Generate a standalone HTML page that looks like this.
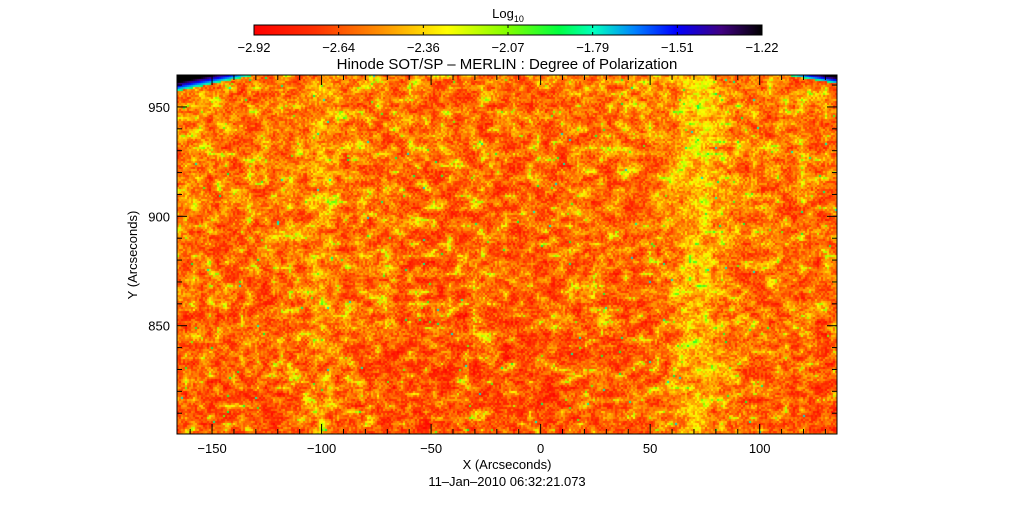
<!DOCTYPE html>
<html><head><meta charset="utf-8"><style>
body{margin:0;background:#fff;width:1014px;height:512px;overflow:hidden;font-family:"Liberation Sans","DejaVu Sans",sans-serif}
svg text{font-family:"Liberation Sans","DejaVu Sans",sans-serif;fill:#000}
#hm{position:absolute;left:177px;top:75px}
</style></head><body>
<canvas id="hm" width="660" height="359"></canvas>
<svg id="s" width="1014" height="512" style="position:absolute;left:0;top:0">
<defs><linearGradient id="cb" x1="0" x2="1">
<stop offset="0" stop-color="#ff0000"/><stop offset="0.12" stop-color="#ff3000"/><stop offset="0.25" stop-color="#ff9000"/><stop offset="0.38" stop-color="#ffff00"/><stop offset="0.5" stop-color="#80ff00"/><stop offset="0.6" stop-color="#00ff40"/><stop offset="0.67" stop-color="#00ffc0"/><stop offset="0.75" stop-color="#0080ff"/><stop offset="0.83" stop-color="#0000ff"/><stop offset="0.92" stop-color="#400080"/><stop offset="1" stop-color="#000000"/>
</linearGradient></defs>
<text x="508" y="18" font-size="13" text-anchor="middle">Log<tspan font-size="9" dy="4">10</tspan></text>
<rect x="254" y="25" width="508" height="10" fill="url(#cb)" stroke="#000"/>
<g id="cbt"></g>
<text x="507" y="69" font-size="15" text-anchor="middle">Hinode SOT/SP – MERLIN : Degree of Polarization</text>
<g id="ax"></g>
<rect x="177" y="75" width="660" height="359" fill="none" stroke="#000"/>
<text x="507" y="469" font-size="13" text-anchor="middle">X (Arcseconds)</text>
<text x="507" y="486" font-size="13" text-anchor="middle">11–Jan–2010 06:32:21.073</text>
<text transform="translate(137,255) rotate(-90)" font-size="13" text-anchor="middle">Y (Arcseconds)</text>
</svg>
<script>
const cbLabels=["-2.92","-2.64","-2.36","-2.07","-1.79","-1.51","-1.22"];
const xTicks=[-150,-100,-50,0,50,100];
const yTicks=[850,900,950];
const xDomain=[-166,135.3], yDomain=[800.5,964.6];
// mean level (0..1 colormap) across x
const profileX=[-170,-150,-130,-110,-100,-90,-70,-50,-30,-10,10,30,50,60,65,70,75,80,90,110,130,140];
const profileV=[0.21,0.20,0.20,0.21,0.26,0.21,0.20,0.19,0.19,0.19,0.20,0.20,0.21,0.24,0.29,0.31,0.31,0.27,0.22,0.21,0.20,0.20];
const NS="http://www.w3.org/2000/svg";
const X=v=>177+(v-xDomain[0])/(xDomain[1]-xDomain[0])*660;
const Y=v=>434-(v-yDomain[0])/(yDomain[1]-yDomain[0])*359;
function el(t,a,p){const e=document.createElementNS(NS,t);for(const k in a)e.setAttribute(k,a[k]);p.appendChild(e);return e;}
const cbt=document.getElementById('cbt');
cbLabels.forEach((l,i)=>{const x=254+i*508/6;
 const t=el('line',{x1:x,x2:x,y1:25,y2:28,stroke:'#000'},cbt);
 
 
 el('line',{x1:x,x2:x,y1:32,y2:35,stroke:'#000'},cbt);
 const tx=el('text',{x:x,y:52,'font-size':13,'text-anchor':'middle'},cbt);tx.textContent=l.replace('-','−');
 
 });
const ax=document.getElementById('ax');
for(let v=-160;v<=130;v+=10){const x=X(v),maj=v%50===0;
 const a=el('line',{x1:x,x2:x,y1:434,y2:434-(maj?10:5),stroke:'#000'},ax);
 
 
 el('line',{x1:x,x2:x,y1:75,y2:75+(maj?10:5),stroke:'#000'},ax);}
xTicks.forEach(v=>{const t=el('text',{x:X(v),y:453,'font-size':13,'text-anchor':'middle'},ax);t.textContent=String(v).replace('-','−');
 
 });
for(let v=810;v<=960;v+=10){const y=Y(v),maj=v%50===0;
 const a=el('line',{x1:177,x2:177+(maj?10:5),y1:y,y2:y,stroke:'#000'},ax);
 
 
 el('line',{x1:837,x2:837-(maj?10:5),y1:y,y2:y,stroke:'#000'},ax);}
yTicks.forEach(v=>{const t=el('text',{x:170,y:Y(v)+5,'font-size':13,'text-anchor':'end'},ax);t.textContent=v;
 
 });
// heatmap texture
const stops=[[0,255,0,0],[0.12,255,48,0],[0.25,255,144,0],[0.38,255,255,0],[0.5,128,255,0],[0.6,0,255,64],[0.67,0,255,192],[0.75,0,128,255],[0.83,0,0,255],[0.92,64,0,128],[1,0,0,0]];
function cmap(v){v=Math.max(0,Math.min(1,v));for(let i=1;i<stops.length;i++){if(v<=stops[i][0]){const a=stops[i-1],b=stops[i],f=(v-a[0])/(b[0]-a[0]);return [a[1]+f*(b[1]-a[1]),a[2]+f*(b[2]-a[2]),a[3]+f*(b[3]-a[3])];}}return [0,0,0];}
function prof(x){for(let i=1;i<profileX.length;i++)if(x<=profileX[i]){const f=(x-profileX[i-1])/(profileX[i]-profileX[i-1]);return profileV[i-1]+f*(profileV[i]-profileV[i-1]);}return profileV[profileV.length-1];}
let seed=12345;const rnd=()=>{seed=(seed*16807)%2147483647;return seed/2147483647;};
const cv=document.getElementById('hm'),ctx=cv.getContext('2d'),W=660,H=359;
const cw=Math.ceil(W/2),ch=Math.ceil(H/2);
const bw=Math.ceil(cw/4)+2,bh=Math.ceil(ch/3)+2,b=[];
for(let i=0;i<bw*bh;i++)b.push(rnd());
for(let cy=0;cy<ch;cy++)for(let cx=0;cx<cw;cx++){
 const fx=cx/4,fy=cy/3,ix=Math.floor(fx),iy=Math.floor(fy),tx=fx-ix,ty=fy-iy;
 const s=b[iy*bw+ix]*(1-tx)*(1-ty)+b[iy*bw+ix+1]*tx*(1-ty)+b[(iy+1)*bw+ix]*(1-tx)*ty+b[(iy+1)*bw+ix+1]*tx*ty;
 const px=cx*2,py=cy*2;
 const base=prof(xDomain[0]+px/W*(xDomain[1]-xDomain[0]));
 let v=base+(s-0.5)*0.22+(rnd()-0.5)*0.16+0.025-0.045*(py/H);
 if(s>0.8&&rnd()<0.5)v+=0.12;
 if(rnd()<0.004)v=0.5+rnd()*0.2;
 const lx=px/W;
 const limbL=(1-lx/0.11)*15-py, limbR=((lx-0.93)/0.07)*8-py;
 if(limbL>0)v=0.62+limbL/22;
 else if(limbR>0)v=0.62+limbR/16;
 const c=cmap(v);
 ctx.fillStyle='rgb('+(c[0]|0)+','+(c[1]|0)+','+(c[2]|0)+')';
 ctx.fillRect(px,py,2,2);}
</script>
</body></html>
